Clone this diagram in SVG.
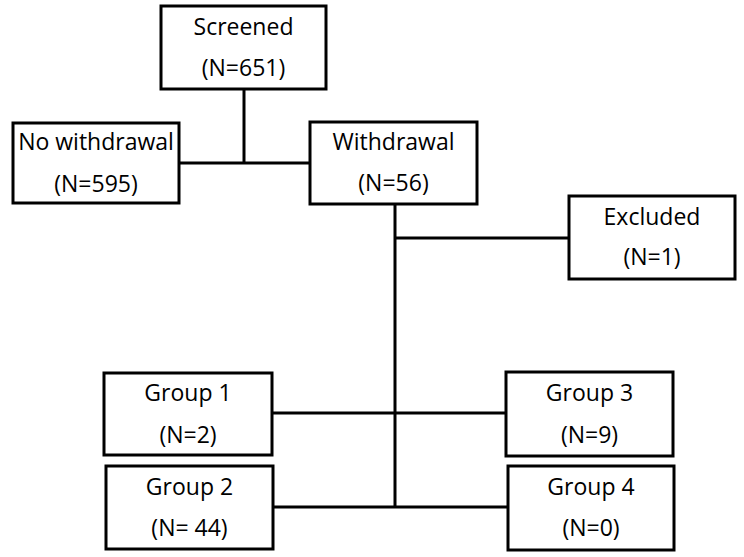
<svg xmlns="http://www.w3.org/2000/svg" width="744" height="557" viewBox="0 0 744 557">
<style>
.box{fill:#fff;stroke:#000;stroke-width:3}
.ln{stroke:#000;stroke-width:3;fill:none}
text{font-family:"Open Sans","Noto Sans",sans-serif;font-size:23px;fill:#000;text-anchor:middle}
</style>
<rect width="744" height="557" fill="#fff"/>
<g id="connectors">
<line class="ln" x1="244" y1="89" x2="244" y2="163"/>
<line class="ln" x1="179" y1="163" x2="310" y2="163"/>
<line class="ln" x1="395" y1="204" x2="395" y2="507"/>
<line class="ln" x1="395" y1="238" x2="569" y2="238"/>
<line class="ln" x1="272" y1="413" x2="506" y2="413"/>
<line class="ln" x1="273" y1="507" x2="508" y2="507"/>
</g>
<g id="screened">
<rect class="box" x="161" y="6" width="165" height="83"/>
<text x="243.5" y="35">Screened</text>
<text x="243.5" y="76">(N=651)</text>
</g>
<g id="nowithdrawal">
<rect class="box" x="13" y="123" width="166" height="80"/>
<text x="96" y="150">No withdrawal</text>
<text x="96" y="192">(N=595)</text>
</g>
<g id="withdrawal">
<rect class="box" x="310" y="122" width="167" height="82"/>
<text x="393.5" y="150">Withdrawal</text>
<text x="393.5" y="191">(N=56)</text>
</g>
<g id="excluded">
<rect class="box" x="569" y="196" width="166" height="83"/>
<text x="652" y="225">Excluded</text>
<text x="652" y="265">(N=1)</text>
</g>
<g id="group1">
<rect class="box" x="104" y="373" width="168" height="82"/>
<text x="188" y="401">Group 1</text>
<text x="188" y="443">(N=2)</text>
</g>
<g id="group2">
<rect class="box" x="106" y="466" width="167" height="83"/>
<text x="189.5" y="495">Group 2</text>
<text x="189.5" y="536">(N= 44)</text>
</g>
<g id="group3">
<rect class="box" x="506" y="372" width="167" height="84"/>
<text x="589.5" y="401">Group 3</text>
<text x="589.5" y="443">(N=9)</text>
</g>
<g id="group4">
<rect class="box" x="508" y="466" width="166" height="84"/>
<text x="591" y="495">Group 4</text>
<text x="591" y="536">(N=0)</text>
</g>
</svg>
